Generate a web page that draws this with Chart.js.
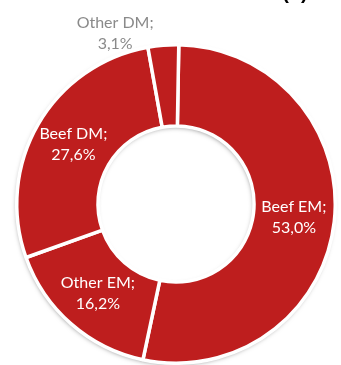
<!DOCTYPE html>
<html>
<head>
<meta charset="utf-8">
<script src="https://cdn.jsdelivr.net/npm/chart.js@4/dist/chart.umd.min.js"></script>
<style>
  html, body { margin: 0; padding: 0; background: #fff; }
  #wrap { width: 341px; height: 365px; position: relative; }
</style>
</head>
<body>
<div id="wrap"><canvas id="c" width="341" height="365"></canvas></div>
<script>
// Emission shares by source
const categories = ['Beef EM', 'Other EM', 'Beef DM', 'Other DM'];
const shares = [53.0, 16.2, 27.6, 3.1];
const valueLabels = ['53,0%', '16,2%', '27,6%', '3,1%'];
const panelTag = '(b)';

const RED = '#BE1E1E';
const labelColors = ['#ffffff', '#ffffff', '#ffffff', '#8a8a8a'];
// Small labels go outside the ring: [angle shift in degrees, radius factor]
const outsidePlacement = { 3: [-15, 1.14] };

// Soft drop shadow under the ring, using the arc geometry from the chart
const ringShadow = {
  id: 'ringShadow',
  beforeDatasetsDraw(chart) {
    const arc = chart.getDatasetMeta(0).data[0];
    if (!arc) return;
    const { x, y, outerRadius, innerRadius } = arc.getProps(['x', 'y', 'outerRadius', 'innerRadius'], true);
    const ctx = chart.ctx;
    ctx.save();
    ctx.shadowColor = 'rgba(0,0,0,0.5)';
    ctx.shadowBlur = 5;
    ctx.shadowOffsetX = -1;
    ctx.shadowOffsetY = 2;
    ctx.beginPath();
    ctx.arc(x, y, outerRadius - 1, 0, Math.PI * 2);
    ctx.arc(x, y, innerRadius + 1, 0, Math.PI * 2, true);
    ctx.closePath();
    ctx.fillStyle = '#ffffff';
    ctx.fill();
    ctx.restore();
  }
};

// Two-line "name; value" labels on each slice
const sliceLabels = {
  id: 'sliceLabels',
  afterDatasetsDraw(chart) {
    const ctx = chart.ctx;
    const meta = chart.getDatasetMeta(0);
    ctx.save();
    ctx.font = '16px Lato, "Open Sans", sans-serif';
    ctx.textAlign = 'center';
    ctx.textBaseline = 'middle';
    meta.data.forEach((arc, i) => {
      const p = arc.getProps(['x', 'y', 'startAngle', 'endAngle', 'innerRadius', 'outerRadius'], true);
      let mid = (p.startAngle + p.endAngle) / 2;
      let r = (p.innerRadius + p.outerRadius) / 2;
      if (outsidePlacement[i]) {
        mid += outsidePlacement[i][0] * Math.PI / 180;
        r = p.outerRadius * outsidePlacement[i][1];
      }
      const lx = p.x + Math.cos(mid) * r;
      const ly = p.y + Math.sin(mid) * r;
      ctx.fillStyle = labelColors[i];
      ctx.fillText(categories[i] + ';', lx, ly - 10.5);
      ctx.fillText(valueLabels[i], lx, ly + 10.5);
    });
    ctx.restore();
  },
  afterDraw(chart) {
    const ctx = chart.ctx;
    ctx.save();
    ctx.font = 'bold 20px "Liberation Sans", Arial, sans-serif';
    ctx.textAlign = 'center';
    ctx.textBaseline = 'alphabetic';
    ctx.fillStyle = '#000';
    ctx.fillText(panelTag, 295, -1);
    ctx.restore();
  }
};

new Chart(document.getElementById('c'), {
  type: 'doughnut',
  data: {
    labels: categories,
    datasets: [{
      data: shares,
      backgroundColor: RED,
      borderColor: '#ffffff',
      borderWidth: 3.5,
      hoverOffset: 0
    }]
  },
  options: {
    responsive: false,
    animation: false,
    cutout: '49%',
    rotation: 1,
    layout: { padding: { left: 11, right: 0, top: 43, bottom: 0 } },
    plugins: {
      legend: { display: false },
      tooltip: { enabled: false }
    }
  },
  plugins: [ringShadow, sliceLabels]
});
</script>
</body>
</html>
